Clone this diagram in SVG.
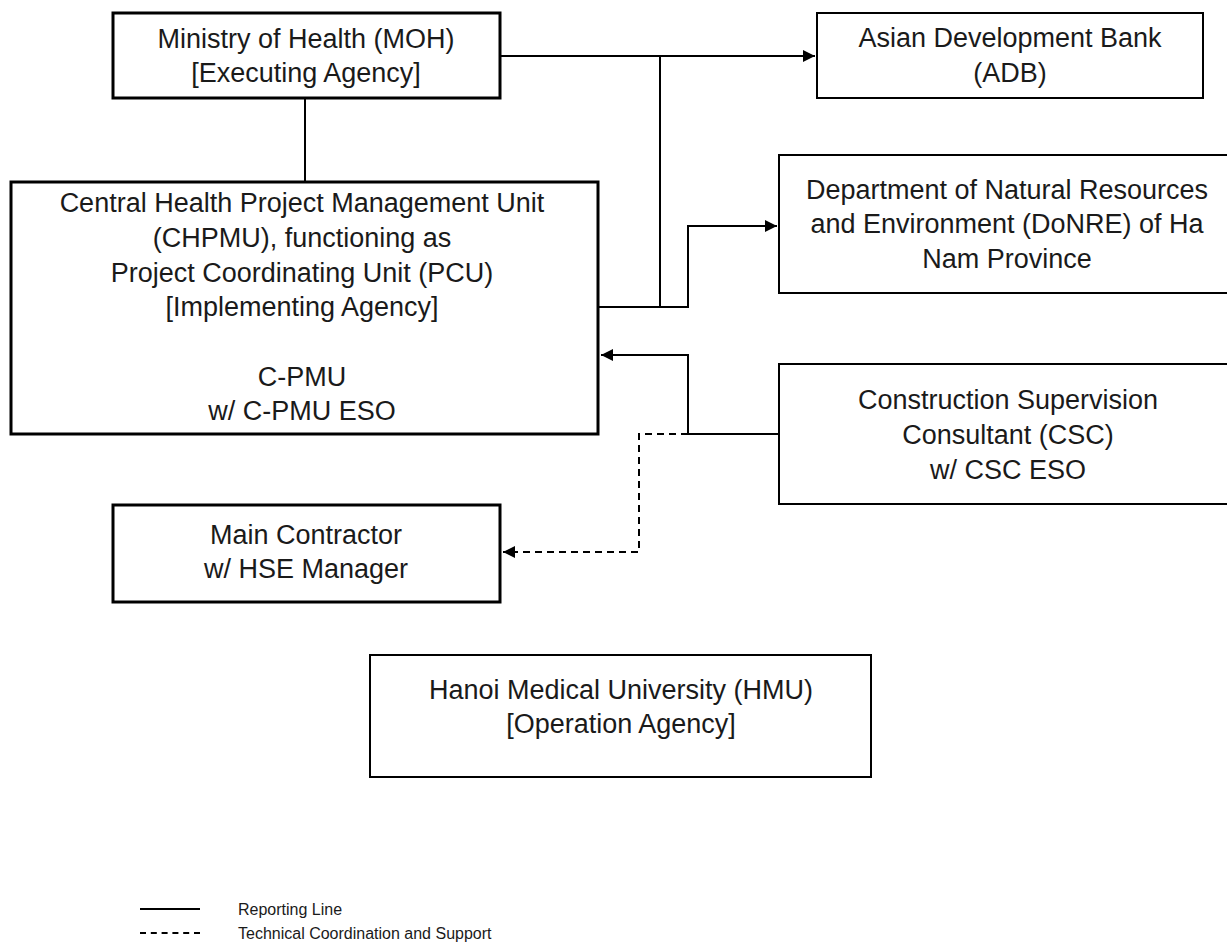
<svg xmlns="http://www.w3.org/2000/svg" width="1227" height="949" viewBox="0 0 1227 949">
<style>
.thick{fill:#fff;stroke:#000;stroke-width:3}
.thin{fill:#fff;stroke:#000;stroke-width:2}
text{font-family:"Liberation Sans",Arial,sans-serif;font-size:27px;fill:#1a1a1a;text-anchor:middle}
.leg{font-size:16px;text-anchor:start}
.c{fill:none;stroke:#000;stroke-width:2}
.d{fill:none;stroke:#000;stroke-width:2;stroke-dasharray:7 5}
</style>
<defs>
<marker id="ah" viewBox="0 0 10 10" refX="10" refY="5" markerWidth="13" markerHeight="12" markerUnits="userSpaceOnUse" orient="auto">
<path d="M0,0 L10,5 L0,10 z" fill="#000"/>
</marker>
</defs>
<g id="connectors">
<path class="c" d="M305,98 V181"/>
<path class="c" d="M500,56 H815" marker-end="url(#ah)"/>
<path class="c" d="M660,56 V307"/>
<path class="c" d="M599,307 H688 V226 H777" marker-end="url(#ah)"/>
<path class="c" d="M779,434 H688 V355 H601" marker-end="url(#ah)"/>
<path class="d" d="M688,434 H639 V552 H503" marker-end="url(#ah)"/>
</g>
<g id="moh">
<rect class="thick" x="113" y="13" width="387" height="85"/>
<text x="306" y="48">Ministry of Health (MOH)</text>
<text x="306" y="82">[Executing Agency]</text>
</g>
<g id="adb">
<rect class="thin" x="817" y="13" width="386" height="85"/>
<text x="1010" y="47">Asian Development Bank</text>
<text x="1010" y="82">(ADB)</text>
</g>
<g id="chpmu">
<rect class="thick" x="11" y="182" width="587" height="252"/>
<text x="302" y="212">Central Health Project Management Unit</text>
<text x="302" y="247">(CHPMU), functioning as</text>
<text x="302" y="282">Project Coordinating Unit (PCU)</text>
<text x="302" y="316">[Implementing Agency]</text>
<text x="302" y="386">C-PMU</text>
<text x="302" y="420">w/ C-PMU ESO</text>
</g>
<g id="donre">
<rect class="thin" x="779" y="155" width="460" height="138"/>
<text x="1007" y="199">Department of Natural Resources</text>
<text x="1007" y="233">and Environment (DoNRE) of Ha</text>
<text x="1007" y="268">Nam Province</text>
</g>
<g id="csc">
<rect class="thin" x="779" y="364" width="460" height="140"/>
<text x="1008" y="409">Construction Supervision</text>
<text x="1008" y="444">Consultant (CSC)</text>
<text x="1008" y="479">w/ CSC ESO</text>
</g>
<g id="contractor">
<rect class="thick" x="113" y="505" width="387" height="97"/>
<text x="306" y="544">Main Contractor</text>
<text x="306" y="578">w/ HSE Manager</text>
</g>
<g id="hmu">
<rect class="thin" x="370" y="655" width="501" height="122"/>
<text x="621" y="699">Hanoi Medical University (HMU)</text>
<text x="621" y="733">[Operation Agency]</text>
</g>
<g id="legend">
<path class="c" d="M140,909 H200"/>
<path class="d" d="M140,933 H200" style="stroke-dasharray:6 4.8"/>
<text class="leg" x="238" y="915">Reporting Line</text>
<text class="leg" x="238" y="939">Technical Coordination and Support</text>
</g>
</svg>
